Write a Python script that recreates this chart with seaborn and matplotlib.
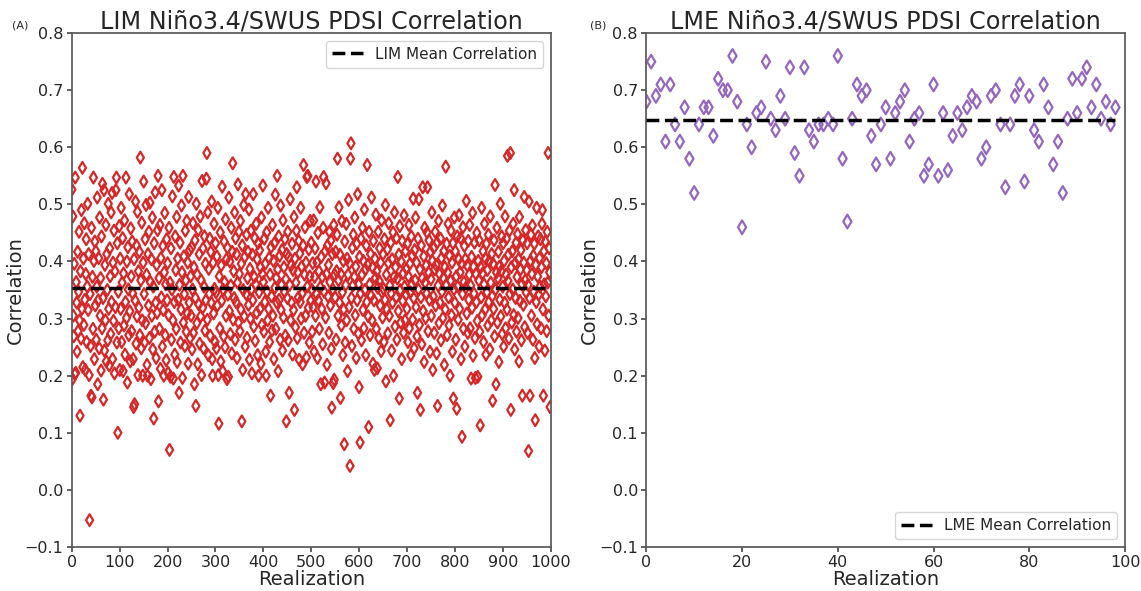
import numpy as np
import pandas as pd
import matplotlib
matplotlib.use("Agg")
import matplotlib.pyplot as plt
import seaborn as sns

# ---------------- data ----------------
lim_corr = [
    .526, .194, .479, .305, .269, .396, .203, .547, .205, .364,
    .328, .242, .417, .278, .347, .452, .297, .130, .383, .265,
    .490, .317, .564, .215, .405, .289, .467, .333, .210, .378,
    .439, .259, .356, .501, .315, .413, .201, -.053, .343, .252,
    .165, .459, .162, .373, .282, .547, .401, .229, .435, .323,
    .418, .263, .356, .512, .185, .332, .406, .248, .477, .305,
    .371, .209, .444, .283, .536, .336, .158, .525, .244, .394,
    .297, .464, .225, .413, .350, .262, .501, .317, .218, .423,
    .374, .273, .486, .329, .520, .229, .398, .296, .454, .204,
    .383, .320, .525, .547, .258, .432, .100, .347, .283, .462,
    .210, .405, .317, .494, .259, .363, .441, .208, .379, .288,
    .472, .237, .329, .547, .301, .400, .188, .425, .351, .271,
    .518, .313, .225, .458, .374, .278, .435, .344, .229, .145,
    .404, .150, .332, .505, .256, .428, .304, .487, .201, .383,
    .319, .417, .271, .582, .367, .248, .468, .297, .200, .398,
    .540, .343, .258, .439, .292, .499, .377, .219, .200, .413,
    .323, .452, .266, .503, .364, .194, .404, .305, .477, .246,
    .356, .125, .432, .277, .521, .328, .231, .394, .310, .455,
    .550, .155, .371, .282, .464, .212, .406, .337, .525, .251,
    .427, .315, .200, .381, .485, .271, .360, .227, .439, .332,
    .397, .205, .306, .459, .070, .363, .198, .423, .263, .351,
    .514, .297, .195, .548, .329, .237, .444, .385, .282, .478,
    .224, .405, .333, .533, .170, .359, .433, .258, .316, .498,
    .381, .196, .550, .293, .409, .343, .252, .454, .367, .277,
    .471, .309, .398, .221, .513, .328, .420, .266, .374, .305,
    .425, .246, .351, .467, .275, .390, .185, .437, .336, .147,
    .501, .292, .377, .220, .455, .325, .413, .256, .479, .304,
    .367, .201, .541, .319, .423, .248, .356, .444, .279, .396,
    .332, .545, .590, .298, .486, .236, .387, .343, .440, .270,
    .417, .328, .505, .229, .200, .398, .309, .466, .352, .259,
    .432, .346, .248, .409, .323, .494, .201, .116, .374, .283,
    .451, .225, .393, .331, .531, .208, .351, .269, .435, .364,
    .250, .474, .305, .404, .194, .424, .342, .198, .512, .313,
    .400, .273, .358, .459, .239, .417, .572, .298, .383, .336,
    .486, .263, .441, .329, .413, .231, .363, .535, .293, .452,
    .378, .278, .471, .316, .396, .120, .428, .210, .350, .499,
    .304, .408, .251, .518, .343, .447, .266, .371, .417, .324,
    .491, .228, .387, .300, .454, .351, .204, .412, .332, .518,
    .286, .373, .441, .261, .360, .466, .310, .404, .236, .432,
    .200, .346, .420, .317, .390, .221, .477, .289, .378, .533,
    .364, .277, .440, .329, .396, .242, .200, .451, .347, .297,
    .494, .317, .406, .259, .377, .165, .425, .339, .279, .464,
    .305, .401, .229, .432, .354, .517, .282, .371, .328, .550,
    .386, .208, .444, .333, .410, .263, .498, .315, .359, .420,
    .244, .472, .302, .390, .347, .439, .270, .369, .120, .413,
    .336, .452, .262, .408, .170, .359, .509, .297, .393, .328,
    .431, .237, .385, .315, .478, .140, .405, .285, .363, .454,
    .530, .266, .381, .337, .436, .228, .414, .329, .494, .300,
    .391, .344, .220, .428, .569, .275, .377, .460, .305, .398,
    .232, .548, .356, .550, .319, .421, .258, .374, .471, .331,
    .433, .351, .277, .397, .320, .472, .242, .373, .423, .305,
    .540, .343, .398, .231, .450, .332, .383, .282, .495, .355,
    .185, .408, .317, .373, .255, .459, .548, .347, .188, .418,
    .302, .537, .378, .219, .428, .339, .394, .275, .452, .364,
    .323, .437, .247, .144, .413, .351, .187, .464, .193, .377,
    .337, .417, .263, .383, .447, .580, .305, .367, .495, .328,
    .412, .161, .378, .288, .471, .346, .236, .401, .316, .080,
    .435, .258, .359, .466, .297, .405, .208, .377, .508, .320,
    .397, .042, .580, .607, .336, .252, .424, .358, .447, .282,
    .373, .477, .306, .391, .231, .431, .332, .518, .274, .360,
    .180, .408, .083, .344, .440, .262, .377, .459, .315, .401,
    .283, .491, .350, .386, .236, .428, .329, .569, .394, .304,
    .110, .452, .360, .271, .413, .340, .512, .297, .390, .221,
    .436, .332, .210, .405, .371, .482, .282, .383, .213, .354,
    .452, .266, .366, .423, .323, .398, .243, .472, .346, .302,
    .413, .352, .259, .439, .333, .499, .190, .377, .316, .421,
    .274, .397, .467, .305, .358, .122, .433, .344, .244, .404,
    .328, .451, .200, .373, .486, .286, .390, .337, .441, .263,
    .370, .548, .313, .412, .160, .462, .350, .293, .400, .229,
    .436, .331, .379, .275, .481, .356, .297, .418, .342, .387,
    .317, .431, .259, .374, .464, .283, .396, .346, .236, .444,
    .359, .410, .298, .510, .336, .248, .420, .367, .477, .320,
    .398, .269, .170, .440, .351, .509, .289, .386, .140, .337,
    .428, .255, .371, .530, .313, .409, .224, .459, .363, .301,
    .393, .344, .451, .530, .278, .381, .437, .333, .242, .417,
    .369, .305, .486, .401, .210, .339, .424, .275, .386, .452,
    .323, .394, .239, .433, .147, .358, .471, .292, .378, .328,
    .440, .262, .406, .347, .498, .301, .371, .418, .219, .390,
    .316, .566, .359, .431, .271, .381, .466, .337, .288, .410,
    .200, .366, .454, .306, .398, .242, .432, .160, .351, .477,
    .328, .418, .263, .374, .142, .444, .356, .298, .404, .481,
    .317, .381, .441, .229, .396, .093, .343, .460, .282, .364,
    .427, .251, .404, .354, .506, .309, .393, .275, .436, .333,
    .377, .464, .283, .358, .195, .408, .319, .485, .235, .391,
    .344, .433, .266, .196, .378, .329, .450, .296, .198, .401,
    .367, .437, .277, .113, .390, .337, .494, .306, .379, .418,
    .259, .360, .466, .316, .405, .237, .431, .346, .385, .288,
    .447, .329, .401, .246, .479, .363, .297, .413, .339, .156,
    .396, .317, .437, .269, .534, .351, .185, .381, .459, .293,
    .371, .417, .224, .391, .333, .501, .304, .383, .444, .273,
    .356, .432, .251, .401, .328, .479, .283, .377, .440, .316,
    .585, .366, .412, .265, .454, .343, .590, .140, .390, .293,
    .418, .351, .466, .306, .525, .246, .397, .336, .433, .277,
    .373, .448, .301, .404, .225, .478, .331, .386, .420, .262,
    .360, .165, .437, .324, .398, .513, .285, .367, .455, .346,
    .385, .432, .275, .359, .068, .505, .336, .165, .401, .447,
    .305, .378, .463, .263, .410, .347, .431, .231, .122, .394,
    .329, .494, .290, .374, .444, .342, .251, .406, .356, .439,
    .283, .390, .466, .490, .316, .165, .418, .360, .244, .435,
    .339, .397, .278, .452, .363, .590, .305, .423, .381, .145,
]

lme_corr = [
    0.68, 0.75, 0.69, 0.71, 0.61, 0.71, 0.64, 0.61, 0.67, 0.58,
    0.52, 0.64, 0.67, 0.67, 0.62, 0.72, 0.70, 0.70, 0.76, 0.68,
    0.46, 0.64, 0.60, 0.66, 0.67, 0.75, 0.65, 0.63, 0.69, 0.65,
    0.74, 0.59, 0.55, 0.74, 0.63, 0.61, 0.64, 0.64, 0.65, 0.64,
    0.76, 0.58, 0.47, 0.65, 0.71, 0.69, 0.70, 0.62, 0.57, 0.64,
    0.67, 0.58, 0.66, 0.68, 0.70, 0.61, 0.65, 0.66, 0.55, 0.57,
    0.71, 0.55, 0.66, 0.56, 0.62, 0.66, 0.63, 0.67, 0.69, 0.68,
    0.58, 0.60, 0.69, 0.70, 0.64, 0.53, 0.64, 0.69, 0.71, 0.54,
    0.69, 0.63, 0.61, 0.71, 0.67, 0.57, 0.61, 0.52, 0.65, 0.72,
    0.66, 0.72, 0.74, 0.67, 0.71, 0.65, 0.68, 0.64, 0.67,
]

lim_mean = 0.353
lme_mean = 0.648

lim_df = pd.DataFrame({"Realization": np.arange(len(lim_corr)), "Correlation": lim_corr})
lme_df = pd.DataFrame({"Realization": np.arange(len(lme_corr)), "Correlation": lme_corr})

titles = ["LIM Niño3.4/SWUS PDSI Correlation", "LME Niño3.4/SWUS PDSI Correlation"]
legend_labels = ["LIM Mean Correlation", "LME Mean Correlation"]
panel_tags = ["(A)", "(B)"]
yticks = [-0.1, 0.0, 0.1, 0.2, 0.3, 0.4, 0.5, 0.6, 0.7, 0.8]

# ---------------- plot ----------------
sns.set_theme(style="ticks")
plt.rcParams["font.family"] = ["DejaVu Sans"]

fig, axes = plt.subplots(1, 2, figsize=(11.41, 5.91), dpi=100)
fig.subplots_adjust(left=0.063, right=0.986, top=0.944, bottom=0.0745, wspace=0.2)

specs = [
    (axes[0], lim_df, lim_mean, "#d62728", 1000, 100, "upper right", 36),
    (axes[1], lme_df, lme_mean, "#9467bd", 100, 20, "lower right", 48),
]

for i, (ax, df, mean, col, xmax, xstep, loc, size) in enumerate(specs):
    sns.scatterplot(data=df, x="Realization", y="Correlation", ax=ax,
                    marker="d", s=size, facecolors="none", edgecolor=col,
                    linewidth=1.6, zorder=2)
    n = len(df)
    ax.plot([0, n - 1], [mean, mean], color="black", linestyle="--",
            linewidth=2.5, label=legend_labels[i], zorder=3)
    ax.set_xlim(0, xmax)
    ax.set_ylim(-0.1, 0.8)
    ax.set_xticks(np.arange(0, xmax + 1, xstep))
    ax.set_yticks(yticks)
    ax.set_yticklabels([f"{t:.1f}".replace("-", "\u2212") for t in yticks])
    ax.tick_params(labelsize=11.5, length=3.5, pad=2.5, color="0.3")
    ax.set_xlabel("Realization", fontsize=14, labelpad=0)
    ax.set_ylabel("Correlation", fontsize=14, labelpad=0)
    ax.set_title(titles[i], fontsize=17.2, pad=3)
    for sp in ax.spines.values():
        sp.set_color("0.35")
    ax.legend(loc=loc, fontsize=11, frameon=True, handlelength=2.0)

fig.text(12 / 1141, 1 - 28 / 591, panel_tags[0], fontsize=8)
fig.text(590 / 1141, 1 - 28 / 591, panel_tags[1], fontsize=8)

fig.savefig("out.png", dpi=100)
